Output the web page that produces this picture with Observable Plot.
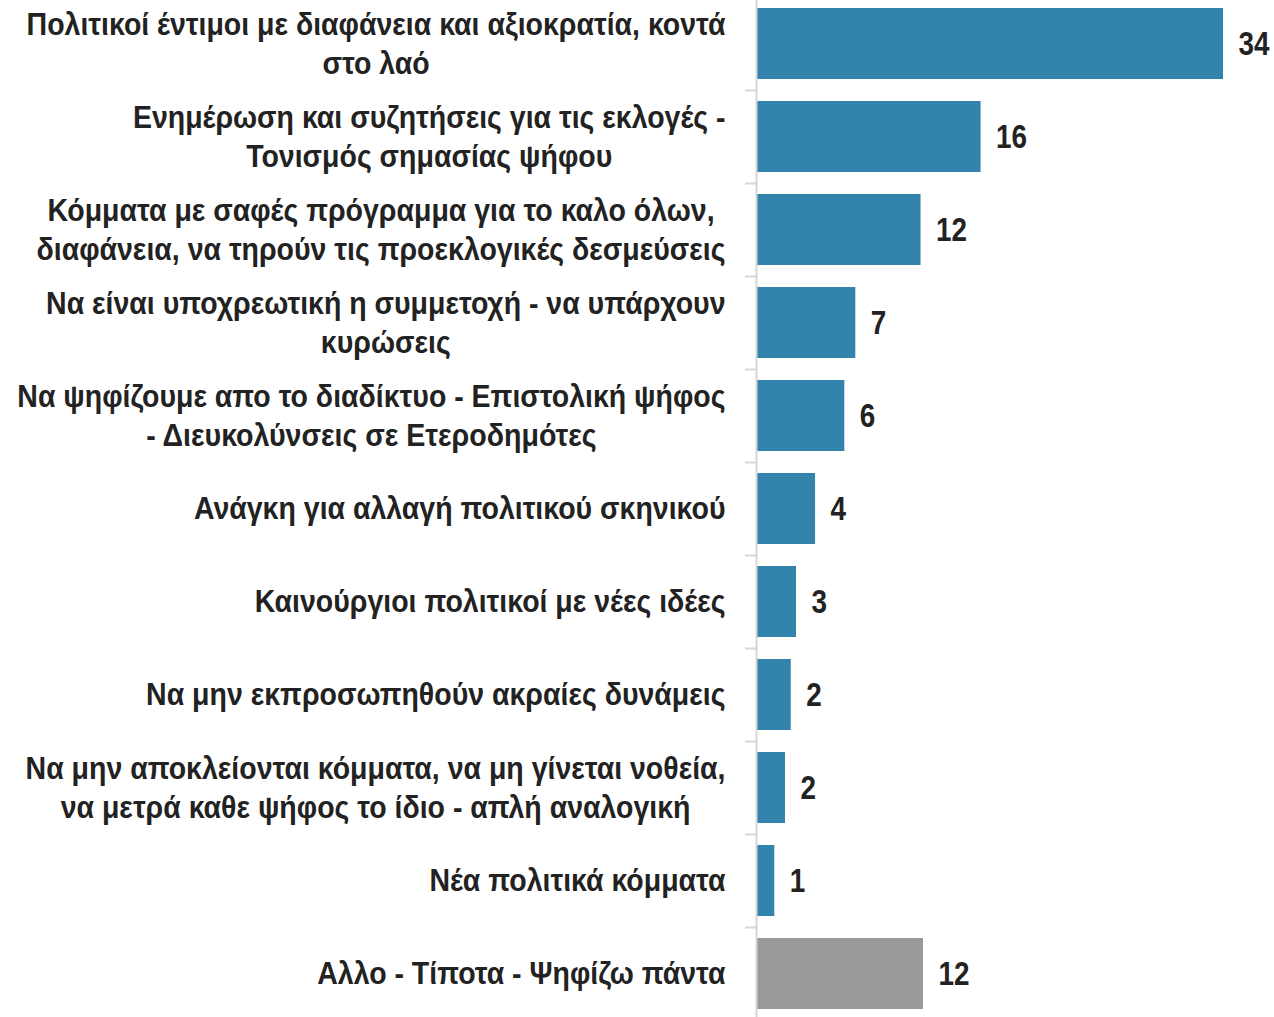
<!DOCTYPE html>
<html><head><meta charset="utf-8">
<script src="https://cdn.jsdelivr.net/npm/d3@7"></script>
<script src="https://cdn.jsdelivr.net/npm/@observablehq/plot@0.6"></script>
<style>html,body{margin:0;padding:0;background:#fff} svg{display:block}</style>
</head><body><div id="chart"></div>
<script>
const categories = [
  "Πολιτικοί έντιμοι με διαφάνεια και αξιοκρατία, κοντά\nστο λαό",
  "Ενημέρωση και συζητήσεις για τις εκλογές -\nΤονισμός σημασίας ψήφου",
  "Κόμματα με σαφές πρόγραμμα για το καλο όλων,\nδιαφάνεια, να τηρούν τις προεκλογικές δεσμεύσεις",
  "Να είναι υποχρεωτική η συμμετοχή - να υπάρχουν\nκυρώσεις",
  "Να ψηφίζουμε απο το διαδίκτυο - Επιστολική ψήφος\n- Διευκολύνσεις σε Ετεροδημότες",
  "Ανάγκη για αλλαγή πολιτικού σκηνικού",
  "Καινούργιοι πολιτικοί με νέες ιδέες",
  "Να μην εκπροσωπηθούν ακραίες δυνάμεις",
  "Να μην αποκλείονται κόμματα, να μη γίνεται νοθεία,\nνα μετρά καθε ψήφος το ίδιο - απλή αναλογική",
  "Νέα πολιτικά κόμματα",
  "Αλλο - Τίποτα - Ψηφίζω πάντα"
];
const values = [34, 16.35, 11.98, 7.23, 6.43, 4.3, 2.91, 2.53, 2.11, 1.33, 12.16];
const valueLabels = ["34", "16", "12", "7", "6", "4", "3", "2", "2", "1", "12"];
const groups = ["answer","answer","answer","answer","answer","answer","answer","answer","answer","answer","other"];

const data = categories.map((c, i) => ({category: c, value: values[i], label: valueLabels[i], group: groups[i]}));

const fontFamily = '"Liberation Sans", Arimo, Arial, sans-serif';
const labelSize = 32;
const labelSqueeze = 0.89;     // emulate a narrow (condensed) face
const valueSize = 34;
const valueSqueeze = 0.82;
const lineH = 39;
const labelGap = 31;
const yRange = [-3, 1020];
const step = (yRange[1] - yRange[0]) / categories.length;

const ctx = document.createElement("canvas").getContext("2d");
function measure(text, size) {
  ctx.font = `bold ${size}px ${fontFamily}`;
  return ctx.measureText(text).width;
}

const labelMarks = categories.flatMap((c) => {
  const lines = c.split("\n");
  const maxW = Math.max(...lines.map(l => measure(l, labelSize) * labelSqueeze));
  return lines.map((line, j) => Plot.text([c], {
    x: () => 0,
    y: (d) => d,
    text: () => line,
    textAnchor: "middle",
    dx: -labelGap - maxW / 2,
    dy: (j - (lines.length - 1) / 2) * lineH,
    fontSize: labelSize,
    fontWeight: "bold",
    fontFamily,
    fill: "#222",
    className: "narrow-label"
  }));
});

const chart = Plot.plot({
  width: 1274,
  height: 1017,
  marginLeft: 756,
  marginRight: 51,
  marginTop: 0,
  marginBottom: 0,
  style: {background: "#fff", overflow: "visible"},
  x: {domain: [0, 34], axis: null},
  y: {domain: categories, range: yRange, paddingInner: 0.24, paddingOuter: 0.12, axis: null},
  color: {domain: ["answer", "other"], range: ["#3384ad", "#999999"]},
  marks: [
    Plot.barX(data, {x: "value", y: "category", fill: "group"}),
    Plot.ruleX([0], {stroke: "#d6d6d6", strokeWidth: 2}),
    Plot.axisY({tickSize: 11, tickFormat: () => "", label: null, dy: -step / 2, stroke: "#d6d6d6", strokeWidth: 2}),
    Plot.text(data, {x: "value", y: "category", text: "label", dx: 15, textAnchor: "start",
      fontSize: valueSize, fontWeight: "bold", fontFamily, fill: "#222", className: "narrow-value"}),
    ...labelMarks
  ]
});
document.getElementById("chart").appendChild(chart);

// compress glyphs horizontally to imitate the condensed typeface
function squeezeTexts(selector, size, factor) {
  chart.querySelectorAll(selector + " text").forEach(t => {
    t.setAttribute("textLength", measure(t.textContent, size) * factor);
    t.setAttribute("lengthAdjust", "spacingAndGlyphs");
  });
}
squeezeTexts("g.narrow-label", labelSize, labelSqueeze);
squeezeTexts("g.narrow-value", valueSize, valueSqueeze);
</script>
</body></html>
